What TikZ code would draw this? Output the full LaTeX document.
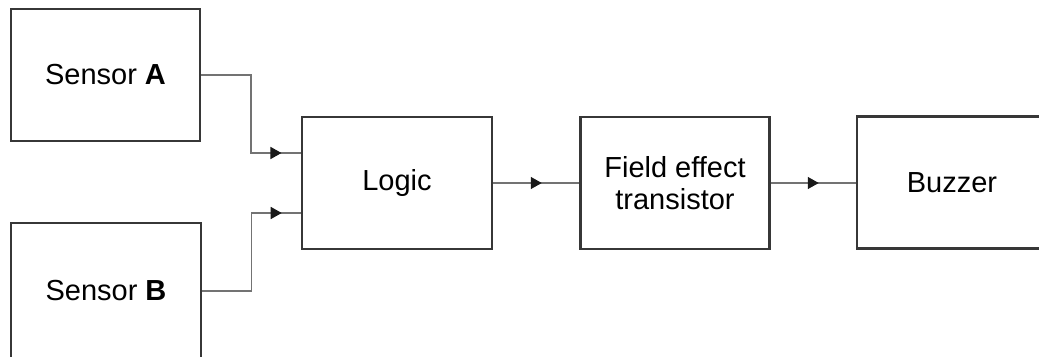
\documentclass[tikz,border=0pt]{standalone}
\usepackage{fontspec}
\setmainfont{Liberation Sans}
\usepackage{tikz}
\usetikzlibrary{positioning,arrows.meta,calc,decorations.markings}
\definecolor{boxgray}{RGB}{55,55,55}
\definecolor{wiregray}{RGB}{115,115,115}
\definecolor{tipgray}{RGB}{25,25,25}
\tikzset{
  block/.style={draw=boxgray, line width=1.2pt, fill=white, minimum width=3.8cm,
                minimum height=2.64cm, inner sep=0pt, align=center,
                font=\fontsize{16.5}{18.2}\selectfont},
  wire/.style={draw=wiregray, line width=0.8pt},
  flow/.style={wire, decoration={markings, mark=at position 0.5 with
                {\pgftransformxshift{1.1mm}\arrow[tipgray]{Triangle[length=2.2mm, width=2.4mm]}}},
               postaction={decorate}}
}

\begin{document}
\begin{tikzpicture}[x=0.02cm, y=0.02cm]
\clip (0,0) rectangle (1039,356);
\node (sa) [block, minimum width=3.78cm] at (105.5,281) {Sensor \textbf{A}};
\node (sb) [block, minimum height=2.72cm] at (106,65) {Sensor \textbf{B}};
\node (logic) [block] at (397,173) {Logic};
\node (fet) [block, minimum width=3.78cm] at (675,173) {Field effect\\transistor};
\node (buzz) [block] at (952,173.5) {Buzzer};
% two sensor inputs into the logic block
\coordinate (inA) at ($(logic.west)+(0,30)$);
\coordinate (inB) at ($(logic.west)+(0,-30)$);
\coordinate (bendA) at ($(sa.east)!0.5!(logic.west)$);
\coordinate (bendB) at ($(sb.east)!0.5!(logic.west)$);
\draw[wire] (sa.east) -| (bendA |- inA) -- (inA);
\draw[flow] (bendA |- inA) -- (inA);
\draw[wire] (sb.east) -| (bendB |- inB) -- (inB);
\draw[flow] (bendB |- inB) -- (inB);
% main chain
\draw[flow] (logic.east) -- (fet.west);
\draw[flow] (fet.east) -- (buzz.west |- fet.east);
\end{tikzpicture}
\end{document}
